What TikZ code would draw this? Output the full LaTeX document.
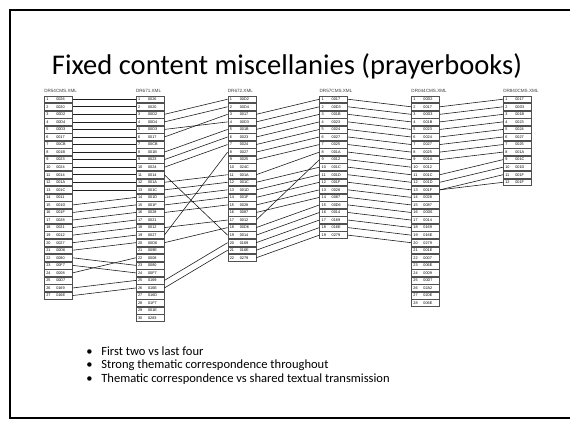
\documentclass[tikz,border=0pt]{standalone}
\usepackage{fontspec}
\setmainfont{Carlito}
\newfontfamily\tabfont{Liberation Sans}

\begin{document}
\begin{tikzpicture}[x=0.75pt,y=0.75pt,yscale=-1,xscale=1,
    entry/.style={draw={rgb, 255:red, 80; green, 80; blue, 80 }, fill=white, line width=0.4pt, anchor=north west,
        inner xsep=1.5pt, inner ysep=0pt, text width=18pt, align=left, minimum height=5.2pt,
        font=\tabfont\fontsize{2.85}{3}\selectfont},
    mslabel/.style={anchor=south west, inner sep=0pt, text={rgb, 255:red, 60; green, 60; blue, 60 },
        font=\tabfont\fontsize{3.45}{4}\selectfont},
    link/.style={draw={rgb, 255:red, 30; green, 30; blue, 30 }, line width=0.45pt},
    item/.style={anchor=west, inner sep=0pt, font=\fontsize{9.4}{11}\selectfont}]
        \useasboundingbox (0,0) rectangle (570,426);

        %Shape: Rectangle (slide frame)
        \draw [line width=1.1pt] (10,10) rectangle (600,418);

        % Text Node
        \node [inner sep=0pt, anchor=base, font=\fontsize{21.4}{26}\selectfont] (title) at (287,74) {Fixed content miscellanies (prayerbooks)};

        %Columns: one box per entry, entry n is node <col><n>
        \foreach \col/\x/\ms/\codes in {
            a/44/{DR54CMS.XML}/{0026,0020,00D2,00D4,00D3,0017,00CB,001B,0023,0024,0014,001A,001C,0011,001D,001F,0028,0021,0012,0027,00D6,0080,00F7,0008,00D7,0169,016E},
            b/135.8/{DR671.XML}/{0026,0020,00D2,00D4,00D3,0017,00CB,001B,0023,0024,0014,001A,001C,001D,001F,0028,0021,0012,0027,00D6,009E,0008,0080,00F7,0169,016E,016D,01F7,001E,0283},
            c/227.6/{DR672.XML}/{00D2,00D4,0017,00D3,001B,0023,0024,0027,0025,024C,001A,001C,001D,001F,0028,0087,0012,00D6,0014,0169,016E,0279},
            d/319.4/{DR57CMS.XML}/{0017,00D3,001B,0023,0024,0027,0025,001A,0012,001C,001D,001F,0028,0087,00D6,0014,0169,016E,0279},
            e/411.2/{DR044CMS.XML}/{00D2,0017,00D3,001B,0023,0024,0027,0025,001A,0012,001C,001D,001F,0028,0087,00D6,0014,0169,016E,0279,001E,0007,006E,0009,00D7,02A2,020E,006E},
            f/503/{DR840CMS.XML}/{0017,00D3,001B,0023,0024,0027,0025,001A,001C,001D,001F,001F}}{
            \node [mslabel] (\col0) at (\x,92.5) {\ms};
            \foreach \c [count=\i] in \codes
                \node [entry] (\col\i) at (\x,95.5+7.55*\i-7.55) {\makebox[7.5pt][l]{\i}\c};
        }

        %Straight Lines: DR54CMS -- DR671
        \foreach \i/\j in {1/1,2/2,3/3,4/4,5/5,6/6,7/7,8/8,9/9,10/10,11/11,12/12,13/13,15/14,16/15,17/16,18/17,19/18,20/19,21/20,22/23,23/24,24/22,26/25,27/26}
            \draw [link] (a\i.east) -- (b\j.west);
        %Straight Lines: DR671 -- DR672
        \foreach \i/\j in {3/1,4/2,5/4,6/3,8/5,9/6,10/7,11/19,12/11,13/12,14/13,15/14,16/15,18/17,19/8,20/18,25/20,26/21}
            \draw [link] (b\i.east) -- (c\j.west);
        %Straight Lines: DR672 -- DR57CMS
        \foreach \i/\j in {3/1,4/2,5/3,6/4,7/5,8/6,9/7,11/8,12/10,13/11,14/12,15/13,16/14,17/9,18/15,19/16,20/17,21/18,22/19}
            \draw [link] (c\i.east) -- (d\j.west);
        %Straight Lines: DR57CMS -- DR044CMS
        \foreach \i [evaluate=\i as \j using int(\i+1)] in {1,...,19}
            \draw [link] (d\i.east) -- (e\j.west);
        %Straight Lines: DR044CMS -- DR840CMS
        \foreach \i/\j in {2/1,3/2,4/3,5/4,6/5,7/6,8/7,9/8,11/9,12/10,13/11,13/12}
            \draw [link] (e\i.east) -- (f\j.west);

        % Text Node
        \node [item] (item1) at (86,351) {\makebox[11.3pt][l]{•}First two vs last four};
        % Text Node
        \node [item] (item2) at (86,365) {\makebox[11.3pt][l]{•}Strong thematic correspondence throughout};
        % Text Node
        \node [item] (item3) at (86,379) {\makebox[11.3pt][l]{•}Thematic correspondence vs shared textual transmission};

\end{tikzpicture}
\end{document}
